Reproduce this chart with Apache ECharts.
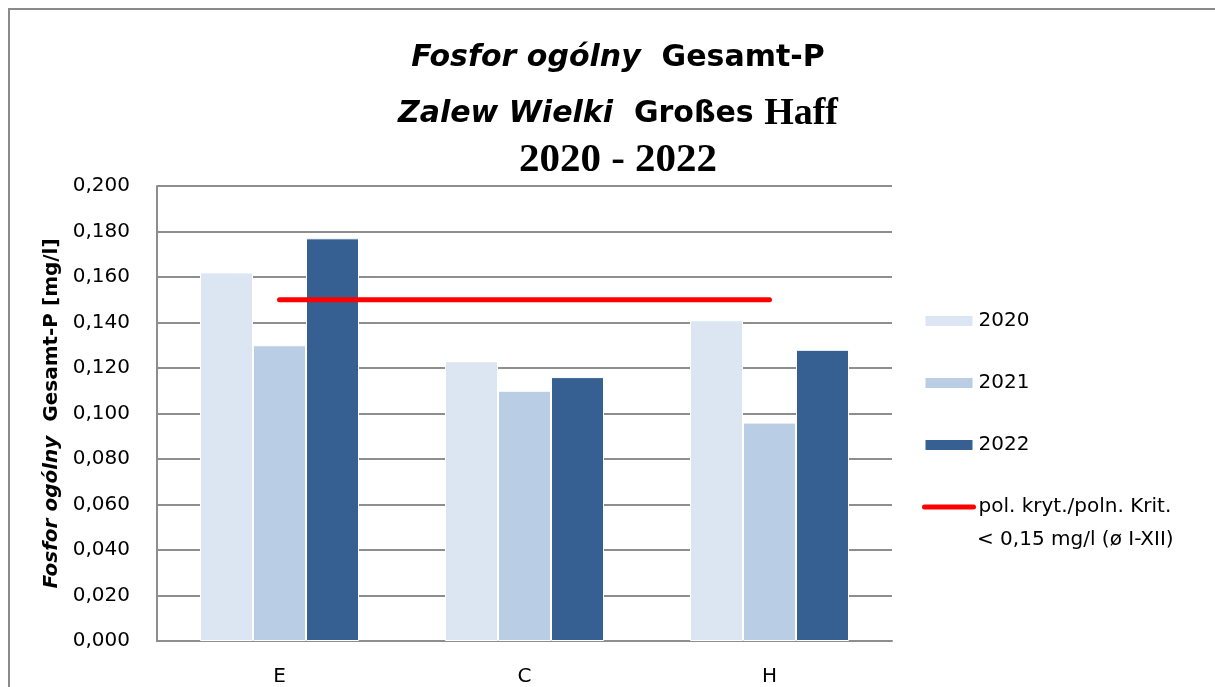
<!DOCTYPE html>
<html>
<head>
<meta charset="utf-8">
<script src="https://cdn.jsdelivr.net/npm/echarts@6/dist/echarts.min.js"></script>
<style>
  html, body { margin: 0; padding: 0; background: #fff; }
  #chart { width: 1215px; height: 687px; }
</style>
</head>
<body>
<div id="chart"></div>
<script>
// stations and yearly means
const categories = ['E', 'C', 'H']
const years = ['2020', '2021', '2022']
const p2020 = [0.162, 0.123, 0.141]
const p2021 = [0.130, 0.110, 0.096]
const p2022 = [0.177, 0.116, 0.128]
const criterion = [0.15, 0.15, 0.15]
const critName = 'pol. kryt./poln. Krit.'
const critNote = '< 0,15 mg/l (ø I-XII)'
const yMin = 0
const yMax = 0.2
const yStep = 0.02

const barColors = ['#dce6f2', '#b9cde5', '#376092']
const gridColor = '#8e8e8e'
const sans = 'DejaVu Sans'
const serif = 'Liberation Serif'

const chart = echarts.init(document.getElementById('chart'), null, { renderer: 'canvas' })

function barSeries(name, data, color) {
  return {
    name: name,
    type: 'bar',
    data: data,
    barWidth: 53,
    barGap: '0%',
    itemStyle: { color: color, borderColor: '#fff', borderWidth: 1 },
    animation: false
  }
}

chart.setOption({
  backgroundColor: '#fff',
  title: [{
    text: '{i|Fosfor ogólny}{b|  Gesamt-P}',
    left: 613, top: 33, textAlign: 'center',
    textStyle: {
      rich: {
        i: { fontFamily: sans, fontSize: 30, fontWeight: 'bold', fontStyle: 'italic', color: '#000', lineHeight: 40 },
        b: { fontFamily: sans, fontSize: 30, fontWeight: 'bold', color: '#000', lineHeight: 40 }
      }
    }
  }, {
    text: '{i|Zalew Wielki}{b|  Großes }{s|Haff}',
    left: 613, top: 88, textAlign: 'center',
    textStyle: {
      rich: {
        i: { fontFamily: sans, fontSize: 30, fontWeight: 'bold', fontStyle: 'italic', color: '#000', lineHeight: 42 },
        b: { fontFamily: sans, fontSize: 30, fontWeight: 'bold', color: '#000', lineHeight: 42 },
        s: { fontFamily: serif, fontSize: 38, fontWeight: 'bold', color: '#000', lineHeight: 42 }
      }
    }
  }, {
    text: '2020 - 2022',
    left: 613, top: 135, textAlign: 'center',
    textStyle: { fontFamily: serif, fontSize: 41, fontWeight: 'bold', color: '#000' }
  }],
  legend: {
    orient: 'vertical',
    left: 917,
    top: 305,
    itemWidth: 49,
    itemHeight: 12,
    itemGap: 40,
    selectedMode: false,
    data: [
      { name: years[0], icon: 'rect' },
      { name: years[1], icon: 'rect' },
      { name: years[2], icon: 'rect' },
      {
        name: critName,
        itemStyle: { opacity: 0 },
        lineStyle: { width: 5, cap: 'round', color: '#ff0000' }
      }
    ],
    textStyle: { fontFamily: sans, fontSize: 20, color: '#000', lineHeight: 22 }
  },
  graphic: [{
    type: 'line',
    shape: { x1: 9, y1: 9, x2: 9, y2: 700 },
    style: { stroke: '#8a8a8a', lineWidth: 2 },
    silent: true
  }, {
    type: 'line',
    shape: { x1: 8, y1: 9, x2: 1230, y2: 9 },
    style: { stroke: '#8a8a8a', lineWidth: 2 },
    silent: true
  }, {
    type: 'text',
    left: 977,
    top: 530,
    style: { text: critNote, fontFamily: sans, fontSize: 20, fill: '#000' }
  }],
  grid: { left: 157, right: 323, top: 186, bottom: 44 },
  xAxis: {
    type: 'category',
    data: categories,
    axisLine: { show: true, lineStyle: { color: gridColor, width: 2 } },
    axisTick: { show: false },
    axisLabel: { margin: 26, fontFamily: sans, fontSize: 20, color: '#000' },
    splitLine: { show: false }
  },
  yAxis: {
    type: 'value',
    min: yMin,
    max: yMax,
    interval: yStep,
    name: '{i|Fosfor ogólny}{b|  Gesamt-P [mg/l]}',
    nameLocation: 'middle',
    nameRotate: 90,
    nameGap: 94,
    nameTextStyle: {
      rich: {
        i: { fontFamily: sans, fontSize: 20, fontWeight: 'bold', fontStyle: 'italic', color: '#000' },
        b: { fontFamily: sans, fontSize: 20, fontWeight: 'bold', color: '#000' }
      }
    },
    axisLine: { show: true, lineStyle: { color: gridColor, width: 2 } },
    axisTick: { show: false },
    axisLabel: {
      margin: 27,
      fontFamily: sans,
      fontSize: 20,
      color: '#000',
      formatter: v => v.toFixed(3).replace('.', ',')
    },
    splitLine: { show: true, lineStyle: { color: gridColor, width: 2 } }
  },
  series: [
    barSeries(years[0], p2020, barColors[0]),
    barSeries(years[1], p2021, barColors[1]),
    barSeries(years[2], p2022, barColors[2]),
    {
      name: critName,
      type: 'line',
      data: criterion,
      symbol: 'none',
      z: 5,
      color: '#ff0000',
      lineStyle: { color: '#ff0000', width: 5, cap: 'round' },
      animation: false
    }
  ]
})
</script>
</body>
</html>
